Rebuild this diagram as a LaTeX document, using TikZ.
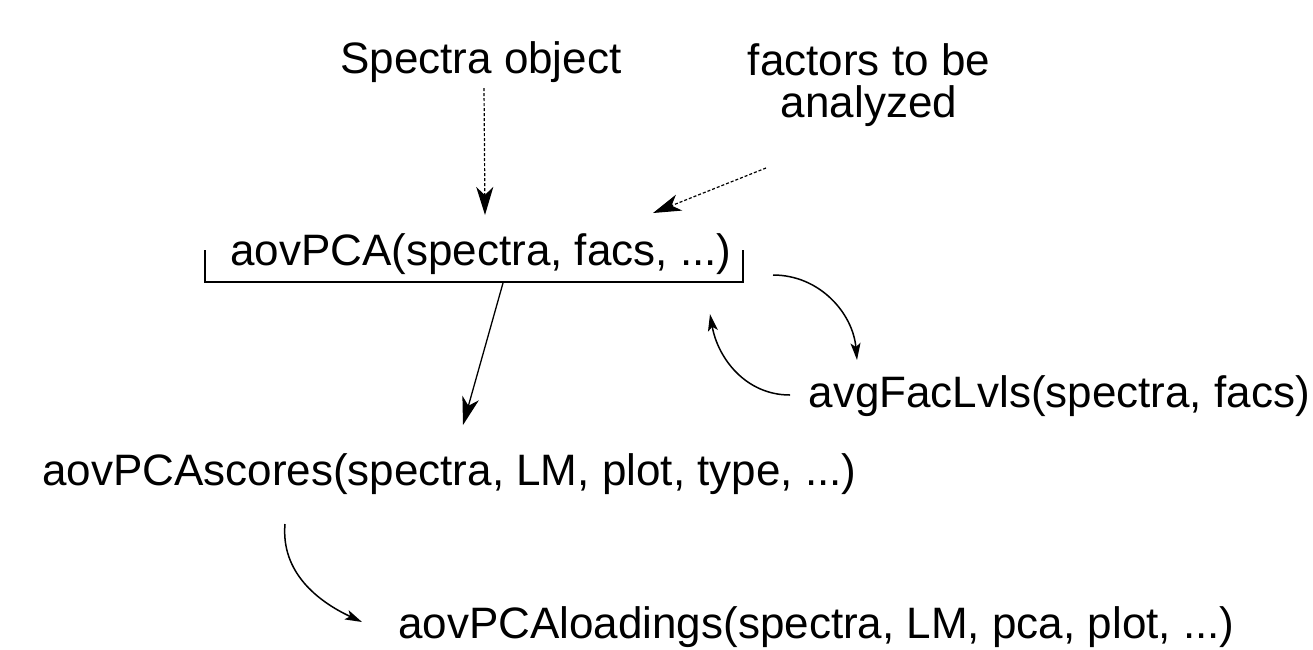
\documentclass[tikz,border=0pt]{standalone}
\usepackage{fontspec}
\setmainfont{Liberation Sans}
\usetikzlibrary{arrows.meta}
\begin{document}
\begin{tikzpicture}[x=1pt,y=-1pt,
  lbl/.style={inner sep=0pt,font=\fontsize{44}{42}\selectfont,align=center},
  dash arrow/.style={densely dashed,line width=1.2pt,-{Stealth[length=28pt,width=17pt,inset=8pt]}},
  big arrow/.style={line width=1.3pt,-{Stealth[length=28pt,width=17pt,inset=8pt]}},
  small arrow/.style={line width=1.5pt,-{Stealth[length=17pt,width=10pt,inset=4pt]}}]
\useasboundingbox (0,0) rectangle (1313,649);
\node[lbl,anchor=base west] (spec) at (340,73) {Spectra object};
\node[lbl,anchor=base] (facs) at (869,75) {factors to be};
\node[lbl,anchor=base] (facs2) at (869,117) {analyzed};
\node[lbl,anchor=base west] (aov) at (230,265) {aovPCA(spectra, facs, ...)};
\node[lbl,anchor=base east] (avg) at (1310,407) {avgFacLvls(spectra, facs)};
\node[lbl,anchor=base west] (scores) at (42,485) {aovPCAscores(spectra, LM, plot, type, ...)};
\node[lbl,anchor=base west] (load) at (398,638) {aovPCAloadings(spectra, LM, pca, plot, ...)};
\coordinate (bl) at (205,250);
\coordinate (br) at (743,250);
\draw[line width=1.3pt] (bl) -- (205,282) -- (743,282) -- (br);
\coordinate (s1) at (484,88);
\coordinate (e1) at (485,215);
\draw[dash arrow] (s1) -- (e1);
\coordinate (s2) at (766,168);
\coordinate (e2) at (653,213);
\draw[dash arrow] (s2) -- (e2);
\coordinate (s3) at (503,283);
\coordinate (e3) at (463,425);
\draw[big arrow] (s3) -- (e3);
\coordinate (s4) at (773,275);
\coordinate (e4) at (857,360);
\draw[small arrow] (s4) to[out=0,in=95] (e4);
\coordinate (s5) at (790,395);
\coordinate (e5) at (710,314);
\draw[small arrow] (s5) to[out=180,in=-80] (e5);
\coordinate (s6) at (285,524);
\coordinate (e6) at (362,622);
\draw[small arrow] (s6) to[out=-95,in=155] (e6);
\end{tikzpicture}
\end{document}
